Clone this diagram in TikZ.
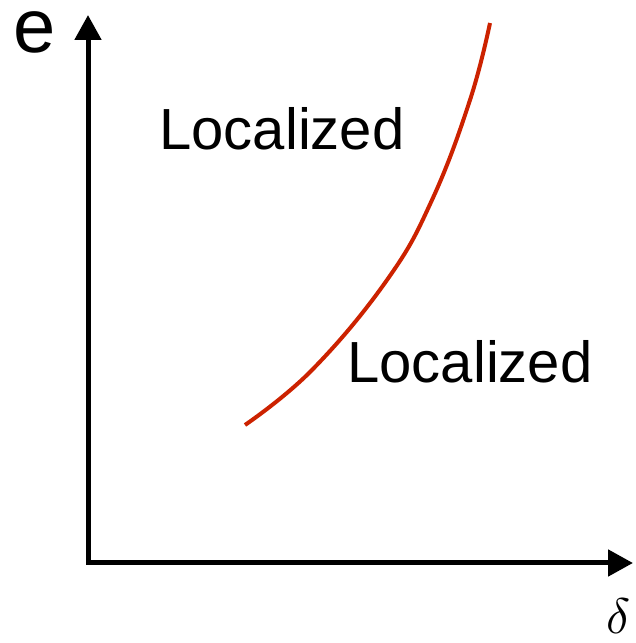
\documentclass[tikz,border=0pt]{standalone}
\usepackage{fontspec}
\setmainfont{Liberation Sans}
\usetikzlibrary{arrows.meta}
\definecolor{curveRed}{RGB}{204,34,0}

\begin{document}
\begin{tikzpicture}[
    x=1pt, y=1pt,
    axis/.style={line width=5pt, {Triangle[length=25pt, width=26pt]}-{Triangle[length=25pt, width=26pt]}},
    boundary/.style={line width=4pt, color=curveRed, line cap=butt},
    region/.style={inner sep=0pt, anchor=base, font=\fontsize{58}{70}\selectfont},
    axislabel/.style={inner sep=0pt}
]
\useasboundingbox (0,0) rectangle (635,643);
\coordinate (origin) at (88,80);
\coordinate (ytip) at (88,628);
\coordinate (xtip) at (633,80);
\draw[axis] (ytip) -- (origin) -- (xtip);
\node[axislabel, anchor=base, font=\fontsize{76}{90}\selectfont] (elabel) at (35,590) {e};
\node[axislabel, scale=5] (dlabel) at (619,27) {$\delta$};
\node[region] (upper) at (282,493) {Localized};
\node[region] (lower) at (470,260) {Localized};
\draw[boundary] plot[smooth, tension=0.7] coordinates {(245,218) (312,273) (387,363) (432,443) (470,543) (490,620)};
\end{tikzpicture}
\end{document}
